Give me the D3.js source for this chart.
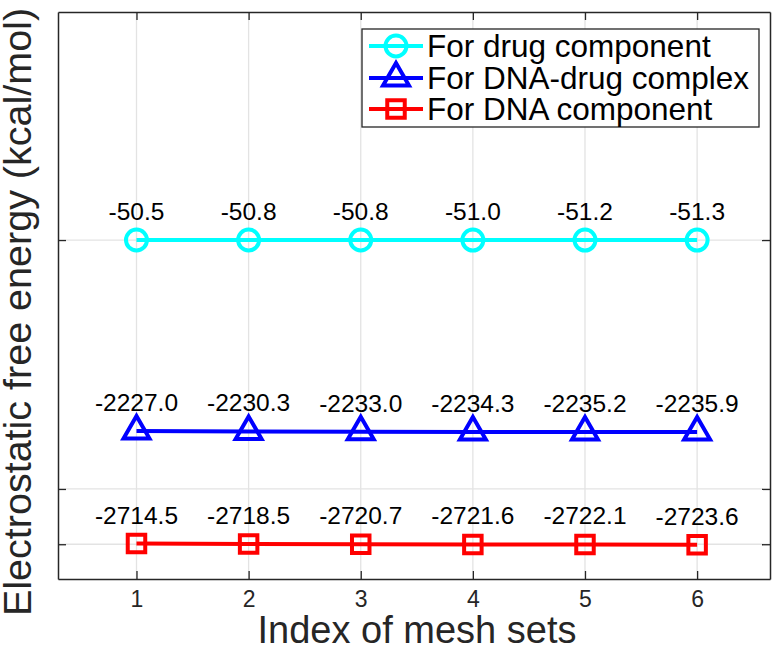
<!DOCTYPE html>
<html>
<head>
<meta charset="utf-8">
<script src="https://cdn.jsdelivr.net/npm/d3@7"></script>
<style>
    body { margin: 0; background: #fff; }
    svg { display: block; font-family: "Liberation Sans", Arial, sans-serif; }
</style>
</head>
<body>
<svg id="chart" width="776" height="653"></svg>
<script>
// 数据：网格序号和三组静电自由能
const meshIndex = [1, 2, 3, 4, 5, 6];
const drugEnergy = [-50.5, -50.8, -50.8, -51.0, -51.2, -51.3];
const complexEnergy = [-2227.0, -2230.3, -2233.0, -2234.3, -2235.2, -2235.9];
const dnaEnergy = [-2714.5, -2718.5, -2720.7, -2721.6, -2722.1, -2723.6];
// 复合物曲线在图中上移了 500 以免和 DNA 曲线挤在一起（标签仍是真实值）
const complexShift = 500;
const yTickValues = [-2720, -2235, -51];
const seriesNames = ["For drug component", "For DNA-drug complex", "For DNA component"];

const series = [
    { name: seriesNames[0], values: drugEnergy, shift: 0, color: "#00ffff", symbol: d3.symbolCircle, size: 346 },
    { name: seriesNames[1], values: complexEnergy, shift: complexShift, color: "#0000ff", symbol: d3.symbolTriangle, size: 292 },
    { name: seriesNames[2], values: dnaEnergy, shift: 0, color: "#ff0000", symbol: d3.symbolSquare, size: 306 }
];

const svg = d3.select("#chart");
const margin = { left: 58, right: 6, top: 12, bottom: 74 };
const width = 776 - margin.left - margin.right;
const height = 653 - margin.top - margin.bottom;
const axisColor = "#262626";

const x = d3.scaleLinear().domain([0.3, 6.65]).range([0, width]);
const y = d3.scaleLinear().domain([-3025, 1950]).range([height, 0]);

const g = svg.append("g").attr("transform", `translate(${margin.left},${margin.top})`);

// 网格线
g.append("g").selectAll("line")
    .data(meshIndex)
    .enter().append("line")
    .attr("x1", d => x(d)).attr("x2", d => x(d))
    .attr("y1", 0).attr("y2", height)
    .attr("stroke", "#e3e3e3").attr("stroke-width", 1.3);

g.append("g").selectAll("line")
    .data(yTickValues)
    .enter().append("line")
    .attr("x1", 0).attr("x2", width)
    .attr("y1", d => y(d)).attr("y2", d => y(d))
    .attr("stroke", "#e3e3e3").attr("stroke-width", 1.3);

// 坐标轴（刻度朝内，四边都有）
const tickLen = 8;
const xAxis = g.append("g").attr("transform", `translate(0,${height})`)
    .call(d3.axisBottom(x).tickValues(meshIndex).tickFormat(d3.format("d"))
        .tickSizeInner(-tickLen).tickSizeOuter(0).tickPadding(12));
xAxis.selectAll("text").attr("font-size", 23).attr("fill", axisColor);

const xAxisTop = g.append("g")
    .call(d3.axisTop(x).tickValues(meshIndex).tickSizeInner(-tickLen).tickSizeOuter(0).tickFormat(""));

const yAxis = g.append("g")
    .call(d3.axisLeft(y).tickValues(yTickValues).tickSizeInner(-tickLen).tickSizeOuter(0).tickFormat(""));

const yAxisRight = g.append("g").attr("transform", `translate(${width},0)`)
    .call(d3.axisRight(y).tickValues(yTickValues).tickSizeInner(-tickLen).tickSizeOuter(0).tickFormat(""));

[xAxis, xAxisTop, yAxis, yAxisRight].forEach(a => {
    a.select(".domain").attr("stroke", axisColor).attr("stroke-width", 1.5);
    a.selectAll(".tick line").attr("stroke", axisColor).attr("stroke-width", 1.3);
});

// 曲线和标记
const line = d3.line()
    .x((d, i) => x(meshIndex[i]))
    .y(d => y(d));

series.forEach(s => {
    const shown = s.values.map(v => v + s.shift);

    g.append("path")
        .datum(shown)
        .attr("d", line)
        .attr("fill", "none")
        .attr("stroke", s.color)
        .attr("stroke-width", 4);

    g.append("g").selectAll("path")
        .data(shown)
        .enter().append("path")
        .attr("d", d3.symbol().type(s.symbol).size(s.size))
        .attr("transform", (d, i) => `translate(${x(meshIndex[i])},${y(d)})`)
        .attr("fill", "none")
        .attr("stroke", s.color)
        .attr("stroke-width", 4);

    // 数值标签
    g.append("g").selectAll("text")
        .data(s.values)
        .enter().append("text")
        .attr("x", (d, i) => x(meshIndex[i]))
        .attr("y", d => y(d + s.shift) - 20)
        .attr("text-anchor", "middle")
        .attr("font-size", 24.5)
        .attr("fill", "#000")
        .text(d => d.toFixed(1));
});

// 图例
const legend = svg.append("g").attr("transform", "translate(362,29)");
legend.append("rect")
    .attr("width", 397).attr("height", 98)
    .attr("fill", "#fff").attr("stroke", axisColor).attr("stroke-width", 1.3);

const rowY = [17, 49, 80];
series.forEach((s, i) => {
    const row = legend.append("g").attr("transform", `translate(0,${rowY[i]})`);
    row.append("line")
        .attr("x1", 7).attr("x2", 61)
        .attr("stroke", s.color).attr("stroke-width", 4);
    row.append("path")
        .attr("d", d3.symbol().type(s.symbol).size(s.size))
        .attr("transform", "translate(34,0)")
        .attr("fill", "none").attr("stroke", s.color).attr("stroke-width", 4);
    row.append("text")
        .attr("x", 65).attr("y", 11)
        .attr("font-size", 31.5)
        .attr("fill", "#000")
        .text(s.name);
});

// 坐标轴标题
svg.append("text")
    .attr("x", 417).attr("y", 643)
    .attr("text-anchor", "middle")
    .attr("font-size", 38)
    .attr("fill", axisColor)
    .text("Index of mesh sets");

svg.append("text")
    .attr("transform", "translate(31,312) rotate(-90)")
    .attr("text-anchor", "middle")
    .attr("font-size", 39.5)
    .attr("fill", axisColor)
    .text("Electrostatic free energy (kcal/mol)");
</script>
</body>
</html>
